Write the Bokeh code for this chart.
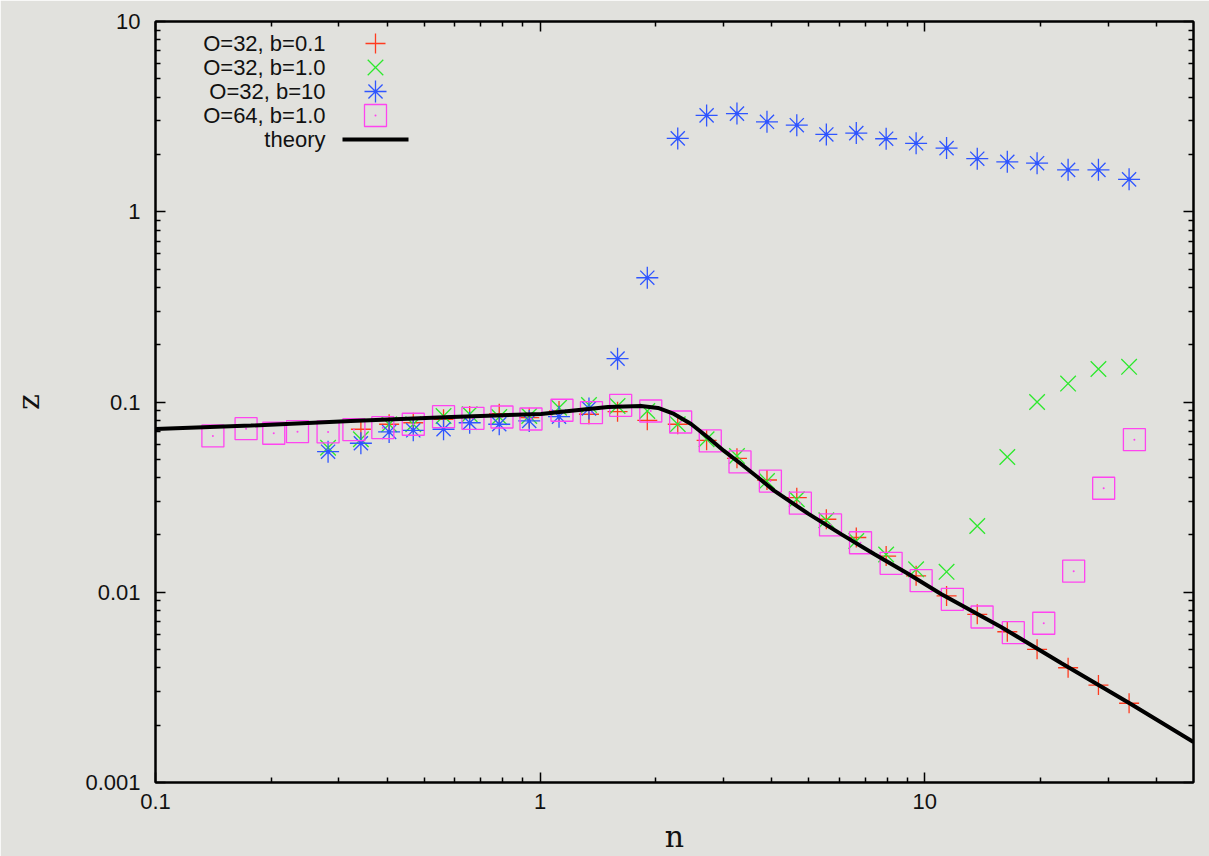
import math
from bokeh.plotting import figure
from bokeh.models import LogAxis, FixedTicker
from bokeh.core.properties import value
from bokeh.embed import file_html
from bokeh.resources import INLINE

# ---------------- data ----------------
# n values shared by the three O=32 runs
n_o32 = [0.281, 0.342, 0.405, 0.468, 0.561, 0.656, 0.783, 0.937, 1.12, 1.34,
         1.59, 1.90, 2.28, 2.71, 3.25, 3.89, 4.65, 5.55, 6.64, 7.94,
         9.50, 11.4, 13.7, 16.4, 19.6, 23.6, 28.3, 34.0]

# O=32, b=0.1 (starts at the second n value)
z_o32_b01 = [0.0719, 0.0764, 0.0778, 0.0811, 0.0844, 0.0868, 0.0827, 0.0897, 0.0862,
             0.0889, 0.0801, 0.0764, 0.0629, 0.0506, 0.0389, 0.0314, 0.0242, 0.0194,
             0.0155, 0.0122, 0.00956, 0.00766, 0.00620, 0.00501, 0.00401, 0.00325, 0.00261]

# O=32, b=1.0
z_o32_b1 = [0.0575, 0.0637, 0.0764, 0.0764, 0.0844, 0.0862, 0.0834, 0.0844, 0.0933, 0.0964,
            0.0953, 0.0897, 0.0764, 0.0637, 0.0520, 0.0384, 0.0308, 0.0239, 0.0186, 0.0158,
            0.0132, 0.0128, 0.0223, 0.0514, 0.100, 0.125, 0.149, 0.153]

# O=32, b=10
z_o32_b10 = [0.0548, 0.0607, 0.0696, 0.0710, 0.0719, 0.0778, 0.0764, 0.0795, 0.0837, 0.0924,
             0.169, 0.450, 2.43, 3.21, 3.28, 2.97, 2.85, 2.55, 2.59, 2.42,
             2.29, 2.16, 1.90, 1.83, 1.80, 1.66, 1.66, 1.48]

# O=64, b=1.0
n_o64 = [0.141, 0.172, 0.203, 0.234, 0.281, 0.328, 0.390, 0.468, 0.561, 0.669,
         0.796, 0.947, 1.14, 1.36, 1.62, 1.94, 2.32, 2.77, 3.31, 3.97,
         4.75, 5.69, 6.81, 8.18, 9.79, 11.8, 14.1, 17.0, 20.4, 24.4, 29.2, 35.1]
z_o64_b1 = [0.0663, 0.0724, 0.0685, 0.0698, 0.0696, 0.0715, 0.0733, 0.0764, 0.0837, 0.0821,
            0.0834, 0.0814, 0.0905, 0.0879, 0.0961, 0.0897, 0.0785, 0.0624, 0.0484, 0.0384,
            0.0294, 0.0226, 0.0182, 0.0142, 0.0115, 0.00918, 0.00741, 0.00613, 0.00687, 0.0129,
            0.0352, 0.0634]

# theory curve
n_theory = [0.1, 0.177, 0.322, 0.587, 1.005, 1.225, 1.502, 1.830, 2.026, 2.229,
            2.470, 2.734, 3.008, 3.331, 3.687, 4.058, 4.977, 6.062, 7.387, 9.053,
            11.03, 15.80, 22.63, 34.01, 50.0]
z_theory = [0.0721, 0.0752, 0.0795, 0.0834, 0.0865, 0.0902, 0.0941, 0.0953, 0.0930, 0.0865,
            0.0766, 0.0651, 0.0553, 0.0472, 0.0401, 0.0342, 0.0259, 0.0202, 0.0159, 0.0125,
            0.00979, 0.00657, 0.00425, 0.00262, 0.00163]

x_major = [0.1, 1, 10]
x_major_labels = ["0.1", "1", "10"]
y_major = [0.001, 0.01, 0.1, 1, 10]
y_major_labels = ["0.001", "0.01", "0.1", "1", "10"]

series_labels = ["O=32, b=0.1", "O=32, b=1.0", "O=32, b=10", "O=64, b=1.0", "theory"]

# ---------------- style ----------------
BG = "#e1e1dd"
RED = "#ff3b1f"
GREEN = "#2ee82e"
BLUE = "#2f55ff"
MAGENTA = "#ff44f0"
SANS = "Liberation Sans"
SERIF = "DejaVu Serif"

W, H = 1209, 856
FRAME_L, FRAME_R, FRAME_T, FRAME_B = 155, 16, 21, 74
FRAME_W = W - FRAME_L - FRAME_R
FRAME_H = H - FRAME_T - FRAME_B
X0, X1 = 0.1, 50.0
Y0, Y1 = 0.001, 10.0

p = figure(width=W, height=H, x_axis_type="log", y_axis_type="log",
           x_range=(X0, X1), y_range=(Y0, Y1),
           min_border_left=FRAME_L, min_border_right=FRAME_R,
           min_border_top=FRAME_T, min_border_bottom=FRAME_B,
           background_fill_color=BG, border_fill_color=BG,
           output_backend="svg", toolbar_location=None)
p.grid.visible = False
p.outline_line_color = "black"
p.outline_line_width = 2

bottom_ax = p.below[0]
left_ax = p.left[0]


def minor_ticks(lo, hi):
    out = []
    e = math.floor(math.log10(lo))
    while 10 ** e <= hi:
        for k in range(2, 10):
            v = k * 10 ** e
            if lo < v < hi:
                out.append(v)
        e += 1
    return out


def style_axis(ax, major, labels, minor, show_labels):
    ax.ticker = FixedTicker(ticks=major, minor_ticks=minor)
    ax.major_tick_in = 10
    ax.major_tick_out = 0
    ax.minor_tick_in = 5
    ax.minor_tick_out = 0
    ax.axis_line_width = 2
    ax.major_tick_line_width = 1.5
    ax.minor_tick_line_width = 1.5
    ax.major_label_overrides = {t: s for t, s in zip(major, labels)}
    if show_labels:
        ax.major_label_text_font = SANS
        ax.major_label_text_font_size = "22px"
        ax.major_label_text_color = "#111111"
    else:
        # mirrored axis: ticks only
        ax.major_label_text_font_size = "1px"
        ax.major_label_text_alpha = 0
        ax.major_label_standoff = 0


x_minor = minor_ticks(X0, X1)
y_minor = minor_ticks(Y0, Y1)

style_axis(bottom_ax, x_major, x_major_labels, x_minor, True)
style_axis(left_ax, y_major, y_major_labels, y_minor, True)
bottom_ax.major_label_standoff = 11
left_ax.major_label_standoff = 15

top_ax = LogAxis()
right_ax = LogAxis()
style_axis(top_ax, x_major, x_major_labels, x_minor, False)
style_axis(right_ax, y_major, y_major_labels, y_minor, False)
p.add_layout(top_ax, "above")
p.add_layout(right_ax, "right")

bottom_ax.axis_label = "n"
left_ax.axis_label = "z"
for ax, standoff in ((bottom_ax, 7), (left_ax, 36)):
    ax.axis_label_text_font = SERIF
    ax.axis_label_text_font_style = "normal"
    ax.axis_label_text_font_size = "30px"
    ax.axis_label_text_color = "#111111"
    ax.axis_label_standoff = standoff

LW = 1.3

# data series
p.scatter(n_o32[1:], z_o32_b01, marker="cross", size=20, line_color=RED, line_width=LW)
p.scatter(n_o32, z_o32_b1, marker="x", size=22, line_color=GREEN, line_width=LW)
p.scatter(n_o32, z_o32_b10, marker="cross", size=22, line_color=BLUE, line_width=LW)
p.scatter(n_o32, z_o32_b10, marker="x", size=20, line_color=BLUE, line_width=LW)
p.scatter(n_o32, z_o32_b10, marker="circle", size=4, line_color=None, fill_color=BLUE)
p.scatter(n_o64, z_o64_b1, marker="square", size=22, line_color=MAGENTA,
          fill_color=None, line_width=LW)
p.scatter(n_o64, z_o64_b1, marker="circle", size=2, line_color=None, fill_color=MAGENTA)
p.line(n_theory, z_theory, line_width=4, line_color="black")


# key in the upper left, laid out in pixels from the canvas corner
def n_at(sx):
    return 10 ** (math.log10(X0) + (sx - FRAME_L) / FRAME_W * math.log10(X1 / X0))


def z_at(sy):
    return 10 ** (math.log10(Y1) - (sy - FRAME_T) / FRAME_H * math.log10(Y1 / Y0))


row_y = [43, 67, 91, 115, 139]
key_text_x = 325
key_mark_x = 375

p.text(x=[n_at(key_text_x)] * 5, y=[z_at(s) for s in row_y], text=series_labels,
       text_align="right", text_baseline="middle", text_font=value(SANS),
       text_font_size="22px", text_color="#111111")

kx = [n_at(key_mark_x)]
p.scatter(kx, [z_at(row_y[0])], marker="cross", size=20, line_color=RED, line_width=LW)
p.scatter(kx, [z_at(row_y[1])], marker="x", size=22, line_color=GREEN, line_width=LW)
p.scatter(kx, [z_at(row_y[2])], marker="cross", size=22, line_color=BLUE, line_width=LW)
p.scatter(kx, [z_at(row_y[2])], marker="x", size=20, line_color=BLUE, line_width=LW)
p.scatter(kx, [z_at(row_y[2])], marker="circle", size=4, line_color=None, fill_color=BLUE)
p.scatter(kx, [z_at(row_y[3])], marker="square", size=22, line_color=MAGENTA,
          fill_color=None, line_width=LW)
p.scatter(kx, [z_at(row_y[3])], marker="circle", size=2, line_color=None, fill_color=MAGENTA)
p.line([n_at(342), n_at(408)], [z_at(row_y[4])] * 2, line_width=4, line_color="black")

open("out.html", "w").write(file_html(p, INLINE))
